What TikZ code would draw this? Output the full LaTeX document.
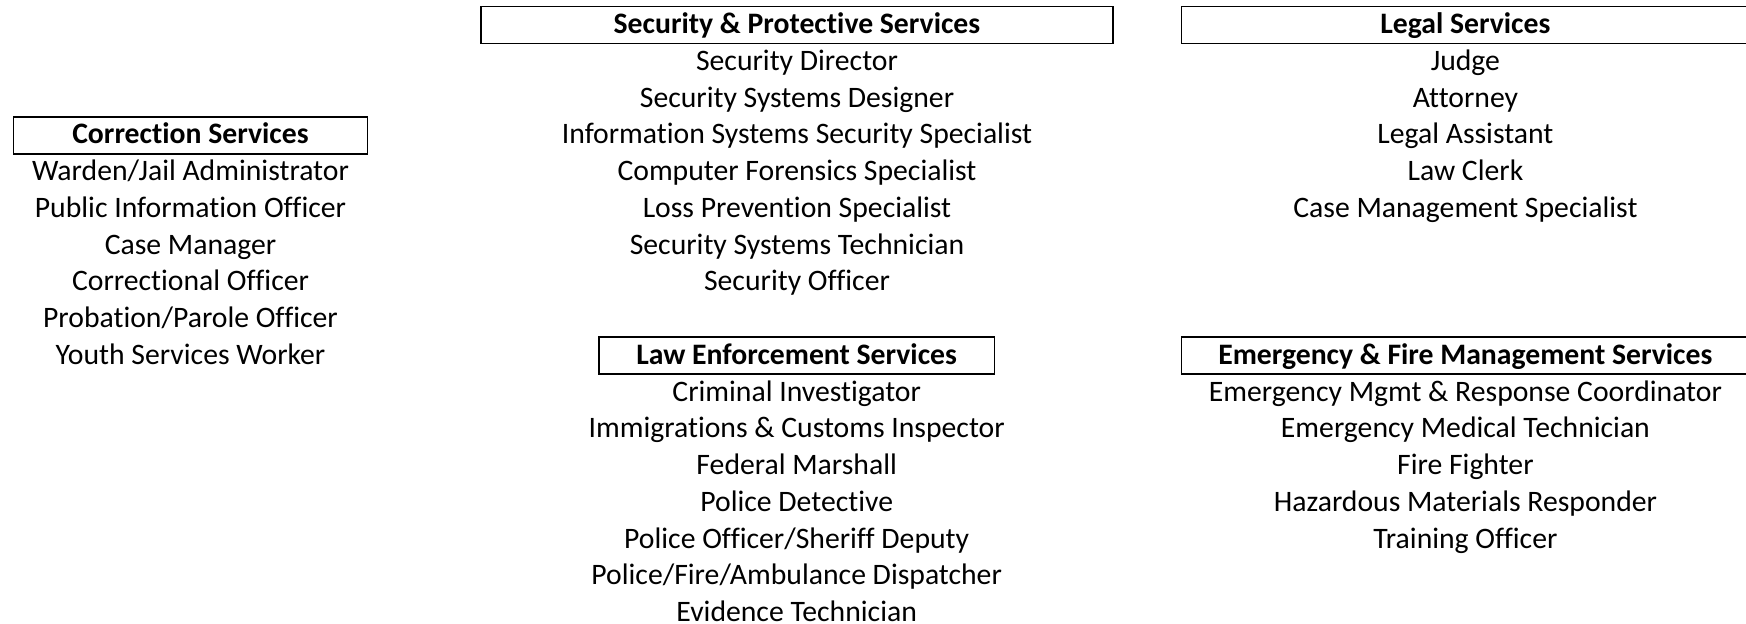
\documentclass[tikz,border=0pt]{standalone}
\usepackage{fontspec}
\setmainfont{Carlito}[Ligatures=NoCommon]
\begin{document}
\begin{tikzpicture}[x=0.5pt, y=-0.5pt, font=\fontsize{14.85}{17}\selectfont,
	head/.style={draw, line width=0.8pt, font=\fontsize{14.85}{17}\selectfont\bfseries, minimum height=18.5pt, inner sep=0pt, text height=11pt, text depth=2.4pt},
	job/.style={inner sep=0pt, text height=9.6pt, text depth=1pt}]
	\useasboundingbox (0,0) rectangle (1746,624);
	\def\rowh{36.75}
	
	% group headers
	\node[head, minimum width=177pt] (corr) at (190.5, 135.25) {Correction Services};
	\node[head, minimum width=316pt] (secur) at (797, 25) {Security \& Protective Services};
	\node[head, minimum width=284pt] (legal) at (1465.4, 25) {Legal Services};
	\node[head, minimum width=197.75pt] (law) at (796.7, 355.75) {Law Enforcement Services};
	\node[head, minimum width=284pt] (emerg) at (1465.4, 355.75) {Emergency \& Fire Management Services};
	
	% job titles, one row each under the header
	\foreach \job [count=\i] in {{Warden/Jail Administrator}, {Public Information Officer}, Case Manager,
		Correctional Officer, {Probation/Parole Officer}, Youth Services Worker}
		\path (corr) ++(0, \i*\rowh) node[job] (corr-\i) {\job};
	
	\foreach \job [count=\i] in {Security Director, Security Systems Designer, Information Systems Security Specialist,
		Computer Forensics Specialist, Loss Prevention Specialist, Security Systems Technician, Security Officer}
		\path (secur) ++(0, \i*\rowh) node[job] (secur-\i) {\job};
	
	\foreach \job [count=\i] in {Judge, Attorney, Legal Assistant, Law Clerk, Case Management Specialist}
		\path (legal) ++(0, \i*\rowh) node[job] (legal-\i) {\job};
	
	\foreach \job [count=\i] in {Criminal Investigator, Immigrations \& Customs Inspector, Federal Marshall,
		Police Detective, {Police Officer/Sheriff Deputy}, {Police/Fire/Ambulance Dispatcher}, Evidence Technician}
		\path (law) ++(0, \i*\rowh) node[job] (law-\i) {\job};
	
	\foreach \job [count=\i] in {Emergency Mgmt \& Response Coordinator, Emergency Medical Technician, Fire Fighter,
		Hazardous Materials Responder, Training Officer}
		\path (emerg) ++(0, \i*\rowh) node[job] (emerg-\i) {\job};
\end{tikzpicture}
\end{document}
